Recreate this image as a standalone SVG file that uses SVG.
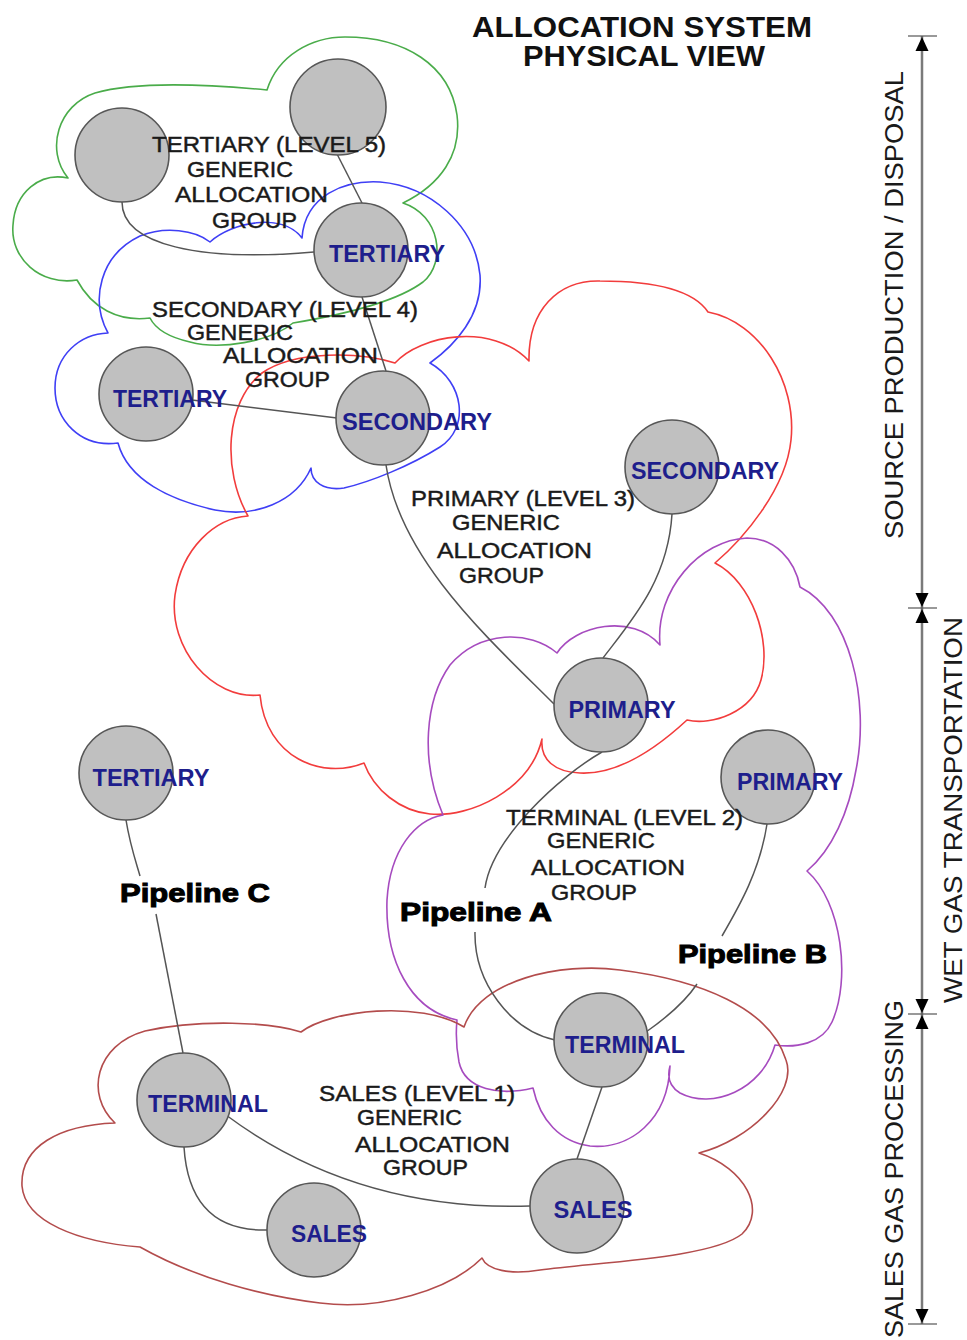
<svg xmlns="http://www.w3.org/2000/svg" xmlns:xlink="http://www.w3.org/1999/xlink" width="967" height="1340" viewBox="0 0 967 1340">
  <style>
    .cloud { fill: none; stroke-width: 1.6; stroke-linejoin: round; }
    .green { stroke: #4aac4a; }
    .blue { stroke: #3f3ff5; }
    .red { stroke: #f23c3c; }
    .purple { stroke: #a64bbf; }
    .brown { stroke: #b34c4c; }
    .link { fill: none; stroke: #555; stroke-width: 1.5; }
    .node { fill: #c0c0c0; stroke: #575757; stroke-width: 1.6; }
    .nlabel { font-family: "Liberation Sans", Arial, sans-serif; font-size: 23px; font-weight: bold; fill: #1e1e8c; text-anchor: middle; }
    .glabel { font-family: "Liberation Sans", Arial, sans-serif; font-size: 22px; fill: #1a1a1a; stroke: #1a1a1a; stroke-width: 0.45; }
    .pipe { font-family: "Liberation Sans", Arial, sans-serif; font-size: 26px; font-weight: bold; fill: #000; stroke: #000; stroke-width: 1; }
    .title { font-family: "Liberation Sans", Arial, sans-serif; font-size: 29px; font-weight: bold; fill: #111; }
    .axis { fill: none; stroke: #7a7a7a; stroke-width: 2.5; }
    .tick { stroke: #555; stroke-width: 1.2; }
    .axlabel { font-family: "Liberation Sans", Arial, sans-serif; font-size: 26px; fill: #1a1a1a; text-anchor: middle; }
  </style>
  <defs>
    <path id="ah" d="M0,0 L-6.5,14 L6.5,14 Z" fill="#000"/>
  </defs>

  <rect width="967" height="1340" fill="#fff"/>

  <!-- generic allocation group boundaries -->
  <g id="groups">
    <path id="group-level5" class="cloud green" d="M68,178 C45,150 58,105 95,93 C140,80 215,85 267,90 C278,55 312,37 345,37 C405,37 450,65 457,115 C462,155 440,185 403,203 C440,215 447,262 423,282 C395,303 335,316 293,323 C270,342 220,350 190,342 C168,337 155,328 150,318 C118,322 92,308 77,280 C40,286 10,258 13,225 C15,192 40,172 68,178 Z"/>
    <path id="group-level4" class="cloud blue" d="M302,238 C305,195 345,180 380,182 C430,186 475,225 480,275 C483,315 455,345 430,363 C464,382 470,428 440,447 C410,466 370,482 344,488 C324,491 311,482 311,468 C296,502 255,518 215,510 C170,500 128,480 118,443 C80,448 55,420 55,388 C55,355 80,334 108,333 C90,300 100,255 140,236 C165,226 195,230 210,242 C232,222 282,212 302,238 Z"/>
    <path id="group-level3" class="cloud red" d="M395,363 C420,335 492,322 529,361 C528,310 558,280 600,281 C650,281 692,288 708,312 C760,322 797,382 791,440 C786,490 742,540 715,563 C752,582 772,640 761,680 C752,712 712,726 687,720 C660,745 620,775 580,773 C555,772 540,760 542,739 C530,790 470,818 430,814 C400,811 374,790 364,763 C322,780 266,758 260,695 C212,700 168,648 175,595 C182,548 215,518 248,516 C222,470 225,402 262,373 C295,350 360,352 395,363 Z"/>
    <path id="group-level2" class="cloud purple" d="M660,645 C655,590 700,540 747,538 C775,538 795,560 800,587 C850,612 870,700 856,770 C849,812 832,850 807,871 C842,902 851,980 832,1022 C822,1044 796,1048 775,1045 C762,1090 712,1110 680,1093 C670,1087 667,1077 670,1066 C668,1120 630,1150 590,1146 C560,1142 540,1120 533,1088 C500,1096 465,1090 459,1062 C456,1046 456,1030 457,1020 C410,1010 385,960 387,900 C390,850 415,820 443,815 C420,760 425,700 450,665 C480,630 530,630 557,653 C575,625 632,613 660,645 Z"/>
    <path id="group-level1" class="cloud brown" d="M115,1123 C85,1095 95,1045 145,1031 C200,1019 270,1022 301,1032 C330,1010 420,1000 464,1027 C480,980 560,962 620,970 C700,980 770,1008 786,1060 C798,1092 750,1140 699,1153 C745,1168 767,1210 742,1234 C712,1258 600,1262 540,1270 C510,1275 487,1270 482,1258 C450,1290 380,1311 320,1303 C262,1296 195,1278 140,1247 C78,1242 25,1222 22,1186 C20,1146 60,1125 115,1123 Z"/>
  </g>

  <!-- connectors -->
  <g id="connectors">
    <path class="link" d="M122,202 C122,245 200,262 314,252"/>
    <path class="link" d="M337,154 L362,203"/>
    <path class="link" d="M362,297 L386,371"/>
    <path class="link" d="M192,400 L337,418"/>
    <path class="link" d="M386,465 C400,560 490,640 554,704"/>
    <path class="link" d="M672,514 C668,580 632,620 603,658"/>
    <path class="link" d="M602,752 C560,776 492,838 485,888"/>
    <path class="link" d="M475,932 C474,982 510,1030 555,1040"/>
    <path class="link" d="M767,824 C760,870 740,905 722,936"/>
    <path class="link" d="M697,984 C685,1002 666,1018 646,1032"/>
    <path class="link" d="M126,820 C130,845 136,862 140,876"/>
    <path class="link" d="M156,914 L183,1053"/>
    <path class="link" d="M602,1087 L577,1159"/>
    <path class="link" d="M226,1115 C300,1170 400,1210 530,1206"/>
    <path class="link" d="M184,1147 C188,1210 222,1231 267,1230"/>
  </g>

  <!-- nodes -->
  <g id="node-upper-left"><circle class="node" cx="122" cy="155" r="47"/></g>
  <g id="node-upper"><circle class="node" cx="338" cy="107" r="48"/></g>
  <g id="node-tertiary-a"><circle class="node" cx="361" cy="250" r="47"/><text class="nlabel" x="387" y="262" textLength="116" lengthAdjust="spacingAndGlyphs">TERTIARY</text></g>
  <g id="node-tertiary-b"><circle class="node" cx="146" cy="394" r="47"/><text class="nlabel" x="170" y="407" textLength="114" lengthAdjust="spacingAndGlyphs">TERTIARY</text></g>
  <g id="node-secondary-a"><circle class="node" cx="383" cy="418" r="47"/><text class="nlabel" x="417" y="430" textLength="150" lengthAdjust="spacingAndGlyphs">SECONDARY</text></g>
  <g id="node-secondary-b"><circle class="node" cx="672" cy="467" r="47"/><text class="nlabel" x="705" y="479" textLength="148" lengthAdjust="spacingAndGlyphs">SECONDARY</text></g>
  <g id="node-primary-a"><circle class="node" cx="601" cy="705" r="47"/><text class="nlabel" x="622" y="718" textLength="107" lengthAdjust="spacingAndGlyphs">PRIMARY</text></g>
  <g id="node-primary-b"><circle class="node" cx="768" cy="777" r="47"/><text class="nlabel" x="790" y="790" textLength="106" lengthAdjust="spacingAndGlyphs">PRIMARY</text></g>
  <g id="node-tertiary-c"><circle class="node" cx="126" cy="773" r="47"/><text class="nlabel" x="151" y="786" textLength="117" lengthAdjust="spacingAndGlyphs">TERTIARY</text></g>
  <g id="node-terminal-a"><circle class="node" cx="601" cy="1040" r="47"/><text class="nlabel" x="625" y="1053" textLength="120" lengthAdjust="spacingAndGlyphs">TERMINAL</text></g>
  <g id="node-terminal-b"><circle class="node" cx="184" cy="1100" r="47"/><text class="nlabel" x="208" y="1112" textLength="120" lengthAdjust="spacingAndGlyphs">TERMINAL</text></g>
  <g id="node-sales-a"><circle class="node" cx="314" cy="1230" r="47"/><text class="nlabel" x="329" y="1242" textLength="76" lengthAdjust="spacingAndGlyphs">SALES</text></g>
  <g id="node-sales-b"><circle class="node" cx="577" cy="1206" r="47"/><text class="nlabel" x="593" y="1218" textLength="79" lengthAdjust="spacingAndGlyphs">SALES</text></g>

  <!-- group captions -->
  <g id="caption-level5" class="glabel">
    <text x="152" y="152" textLength="234" lengthAdjust="spacingAndGlyphs">TERTIARY (LEVEL 5)</text>
    <text x="187" y="177" textLength="106" lengthAdjust="spacingAndGlyphs">GENERIC</text>
    <text x="175" y="202" textLength="153" lengthAdjust="spacingAndGlyphs">ALLOCATION</text>
    <text x="212" y="228" textLength="85" lengthAdjust="spacingAndGlyphs">GROUP</text>
  </g>
  <g id="caption-level4" class="glabel">
    <text x="152" y="317" textLength="266" lengthAdjust="spacingAndGlyphs">SECONDARY (LEVEL 4)</text>
    <text x="187" y="340" textLength="106" lengthAdjust="spacingAndGlyphs">GENERIC</text>
    <text x="223" y="363" textLength="155" lengthAdjust="spacingAndGlyphs">ALLOCATION</text>
    <text x="245" y="387" textLength="85" lengthAdjust="spacingAndGlyphs">GROUP</text>
  </g>
  <g id="caption-level3" class="glabel">
    <text x="411" y="506" textLength="224" lengthAdjust="spacingAndGlyphs">PRIMARY (LEVEL 3)</text>
    <text x="452" y="530" textLength="108" lengthAdjust="spacingAndGlyphs">GENERIC</text>
    <text x="437" y="558" textLength="155" lengthAdjust="spacingAndGlyphs">ALLOCATION</text>
    <text x="459" y="583" textLength="85" lengthAdjust="spacingAndGlyphs">GROUP</text>
  </g>
  <g id="caption-level2" class="glabel">
    <text x="506" y="825" textLength="237" lengthAdjust="spacingAndGlyphs">TERMINAL (LEVEL 2)</text>
    <text x="547" y="848" textLength="108" lengthAdjust="spacingAndGlyphs">GENERIC</text>
    <text x="531" y="875" textLength="154" lengthAdjust="spacingAndGlyphs">ALLOCATION</text>
    <text x="551" y="900" textLength="86" lengthAdjust="spacingAndGlyphs">GROUP</text>
  </g>
  <g id="caption-level1" class="glabel">
    <text x="319" y="1101" textLength="196" lengthAdjust="spacingAndGlyphs">SALES (LEVEL 1)</text>
    <text x="357" y="1125" textLength="105" lengthAdjust="spacingAndGlyphs">GENERIC</text>
    <text x="355" y="1152" textLength="155" lengthAdjust="spacingAndGlyphs">ALLOCATION</text>
    <text x="383" y="1175" textLength="85" lengthAdjust="spacingAndGlyphs">GROUP</text>
  </g>

  <!-- pipeline names -->
  <g id="pipelines" class="pipe">
    <text x="120" y="902" textLength="150" lengthAdjust="spacingAndGlyphs">Pipeline C</text>
    <text x="400" y="921" textLength="152" lengthAdjust="spacingAndGlyphs">Pipeline A</text>
    <text x="678" y="963" textLength="149" lengthAdjust="spacingAndGlyphs">Pipeline B</text>
  </g>

  <!-- title -->
  <g id="title">
    <text class="title"><tspan x="472" y="37" textLength="340" lengthAdjust="spacingAndGlyphs">ALLOCATION SYSTEM</tspan><tspan x="523" y="66" textLength="242" lengthAdjust="spacingAndGlyphs">PHYSICAL VIEW</tspan></text>
  </g>

  <!-- stage scale on the right -->
  <g id="stage-axis">
    <line class="axis" x1="922" y1="36" x2="922" y2="1324"/>
    <line class="tick" x1="908" y1="36" x2="937" y2="36"/>
    <line class="tick" x1="908" y1="608" x2="937" y2="608"/>
    <line class="tick" x1="908" y1="1014" x2="937" y2="1014"/>
    <line class="tick" x1="908" y1="1324" x2="937" y2="1324"/>
    <use xlink:href="#ah" transform="translate(922,37)"/>
    <use xlink:href="#ah" transform="translate(922,607) rotate(180)"/>
    <use xlink:href="#ah" transform="translate(922,609)"/>
    <use xlink:href="#ah" transform="translate(922,1013) rotate(180)"/>
    <use xlink:href="#ah" transform="translate(922,1015)"/>
    <use xlink:href="#ah" transform="translate(922,1323) rotate(180)"/>
    <text class="axlabel" transform="translate(903,305) rotate(-90)" textLength="468" lengthAdjust="spacingAndGlyphs">SOURCE PRODUCTION / DISPOSAL</text>
    <text class="axlabel" transform="translate(962,810) rotate(-90)" textLength="386" lengthAdjust="spacingAndGlyphs">WET GAS TRANSPORTATION</text>
    <text class="axlabel" transform="translate(903,1169) rotate(-90)" textLength="338" lengthAdjust="spacingAndGlyphs">SALES GAS PROCESSING</text>
  </g>
</svg>
